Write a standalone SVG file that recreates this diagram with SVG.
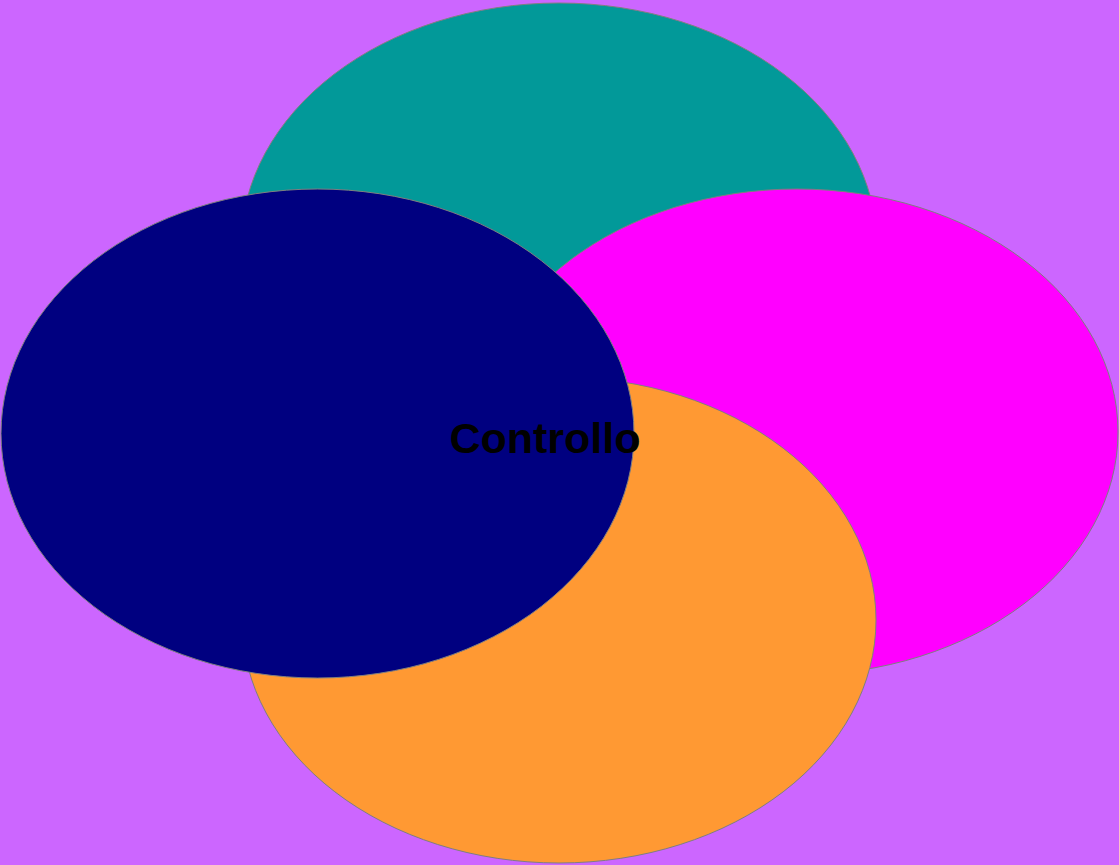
<svg xmlns="http://www.w3.org/2000/svg" width="1119" height="865" viewBox="0 0 1119 865">
<style>
.e{stroke:#7f7f7f;stroke-width:1}
.t{font-family:"Liberation Sans",Arial,sans-serif;font-weight:bold;font-size:43px;fill:#000}
</style>
<rect width="1119" height="865" fill="#CC66FF"/>
<g id="node-top"><ellipse class="e" cx="559" cy="246" rx="318" ry="243" fill="#029999"/></g>
<g id="node-right"><ellipse class="e" cx="797" cy="432" rx="321" ry="243" fill="#FF00FF"/></g>
<g id="node-bottom"><ellipse class="e" cx="559" cy="620" rx="317" ry="243" fill="#FF9933"/></g>
<g id="node-left"><ellipse class="e" cx="317.5" cy="433.5" rx="316.5" ry="244.5" fill="#000080"/></g>
<g id="connectors"></g>
<g id="label"><text class="t" x="545" y="453" text-anchor="middle">Controllo</text></g>
</svg>
